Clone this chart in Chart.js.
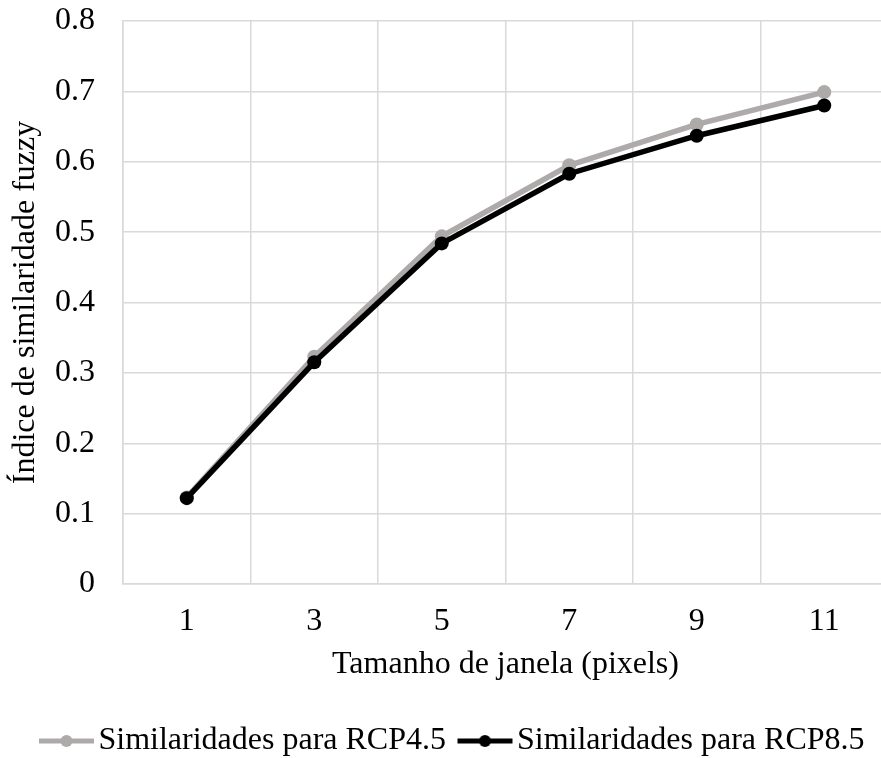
<!DOCTYPE html>
<html>
<head>
<meta charset="utf-8">
<script src="https://cdn.jsdelivr.net/npm/chart.js@4.4.1/dist/chart.umd.min.js"></script>
<style>
  html, body { margin: 0; padding: 0; background: #fff; overflow: hidden; }
  #wrap { position: relative; width: 900px; height: 770px; }
</style>
</head>
<body>
<div id="wrap"><canvas id="chart"></canvas></div>
<script>
// window sizes (pixels) on the x axis
const categories = ["1", "3", "5", "7", "9", "11"]
// fuzzy similarity index
const rcp45 = [0.123, 0.323, 0.494, 0.595, 0.653, 0.699]
const rcp85 = [0.122, 0.315, 0.484, 0.583, 0.637, 0.680]
const seriesNames = ["Similaridades para RCP4.5", "Similaridades para RCP8.5"]
const yTicks = [0, 0.1, 0.2, 0.3, 0.4, 0.5, 0.6, 0.7, 0.8]

const gray = "#aeaaaa"
const black = "#000000"
const gridColor = "#d9d9d9"
const fontFamily = "'Liberation Serif', 'Times New Roman', serif"
const fontSize = 32

// legend marker: short line with a dot in the middle, like Excel.
// drawn off-centre in a wider canvas so it sits right before the text
function lineMarker(color) {
  const c = document.createElement("canvas")
  c.width = 78
  c.height = 16
  const g = c.getContext("2d")
  g.strokeStyle = color
  g.lineWidth = 5
  g.beginPath()
  g.moveTo(22, 8)
  g.lineTo(77, 8)
  g.stroke()
  g.fillStyle = color
  g.beginPath()
  g.arc(49.5, 8, 6, 0, Math.PI * 2)
  g.fill()
  return c
}
const markers = [lineMarker(gray), lineMarker(black)]

new Chart(document.getElementById("chart").getContext("2d"), {
  type: "line",
  data: {
    labels: categories,
    datasets: [
      {
        label: seriesNames[0],
        data: rcp45,
        borderColor: gray,
        backgroundColor: gray,
        pointBackgroundColor: gray,
        borderWidth: 5.5,
        pointRadius: 7,
        pointHoverRadius: 7,
        pointBorderWidth: 0,
        order: 1
      },
      {
        label: seriesNames[1],
        data: rcp85,
        borderColor: black,
        backgroundColor: black,
        pointBackgroundColor: black,
        borderWidth: 5.5,
        pointRadius: 7,
        pointHoverRadius: 7,
        pointBorderWidth: 0,
        order: 0
      }
    ]
  },
  options: {
    responsive: true,
    maintainAspectRatio: false,
    animation: false,
    layout: { padding: { top: 21, right: 12, bottom: 3, left: 6 } },
    plugins: {
      tooltip: { enabled: false },
      legend: {
        position: "bottom",
        labels: {
          color: "#000",
          font: { family: fontFamily, size: fontSize },
          usePointStyle: true,
          pointStyleWidth: 53,
          padding: 2,
          sort: (a, b) => a.datasetIndex - b.datasetIndex,
          generateLabels: (chart) => {
            const items = Chart.defaults.plugins.legend.labels.generateLabels(chart)
            items.forEach((it) => { it.pointStyle = markers[it.datasetIndex] })
            return items
          }
        }
      }
    },
    scales: {
      x: {
        offset: true,
        grid: { color: gridColor, lineWidth: 1.5, offset: true, drawTicks: false },
        border: { color: gridColor, width: 1.5 },
        ticks: {
          color: "#000",
          font: { family: fontFamily, size: fontSize },
          padding: 18,
          maxRotation: 0
        },
        title: {
          display: true,
          text: "Tamanho de janela (pixels)",
          color: "#000",
          font: { family: fontFamily, size: fontSize },
          padding: { top: 0, bottom: 39 }
        },
        afterFit: (scale) => { scale.height = 139 }
      },
      y: {
        min: 0,
        max: 0.8,
        afterBuildTicks: (scale) => { scale.ticks = yTicks.map((v) => ({ value: v })) },
        grid: { color: gridColor, lineWidth: 1.5, drawTicks: false },
        border: { color: gridColor, width: 1.5 },
        ticks: {
          color: "#000",
          font: { family: fontFamily, size: fontSize },
          padding: 28,
          callback: (v) => (v === 0 ? "0" : Number(v).toFixed(1))
        },
        title: {
          display: true,
          text: "Índice de similaridade fuzzy",
          color: "#000",
          font: { family: fontFamily, size: fontSize },
          padding: { top: 0, bottom: 0 }
        },
        afterFit: (scale) => {
          scale.width = 117
          // tick padding would otherwise be added above the plot
          scale.paddingTop = 0
          scale.paddingBottom = 0
        }
      }
    }
  }
})
</script>
</body>
</html>
